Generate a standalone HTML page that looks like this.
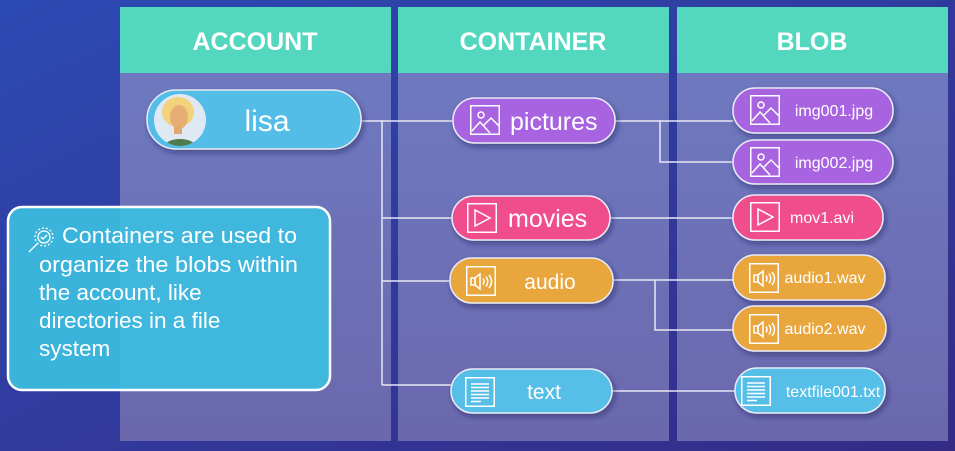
<!DOCTYPE html>
<html><head><meta charset="utf-8"><style>
html,body{margin:0;padding:0;width:955px;height:451px;overflow:hidden;background:#2d3a9e}
svg{display:block}
text{font-family:"Liberation Sans",sans-serif;fill:#fff}
</style></head><body>
<svg width="955" height="451" viewBox="0 0 955 451" xmlns="http://www.w3.org/2000/svg">
<defs>
<linearGradient id="bg" x1="0" y1="0" x2="1" y2="1">
<stop offset="0" stop-color="#2c4ab4"/><stop offset="1" stop-color="#352b86"/></linearGradient>
<linearGradient id="pn" x1="0" y1="0" x2="0" y2="1">
<stop offset="0" stop-color="#6f7cc2"/><stop offset="1" stop-color="#6b68ad"/></linearGradient>
<filter id="sh" x="-20%" y="-30%" width="140%" height="170%"><feDropShadow dx="2" dy="3" stdDeviation="3" flood-color="#1a1a50" flood-opacity="0.45"/></filter>
<g id="ipic" fill="none" stroke="#fff" stroke-width="1.5"><rect x="0.75" y="0.75" width="28.5" height="28.5"/><circle cx="11" cy="10" r="3"/><polyline points="2,26 10,17 20,28"/><polyline points="13,21 21,13 29,21"/></g>
<g id="iplay" fill="none" stroke="#fff" stroke-width="1.5"><rect x="0.75" y="0.75" width="28.5" height="28.5"/><polygon points="8,7 8,23 23,15"/></g>
<g id="iaud" fill="none" stroke="#fff" stroke-width="1.5"><rect x="0.75" y="0.75" width="28.5" height="28.5"/><rect x="5" y="12" width="4" height="7"/><polygon points="9,12 14,8 14,23 9,19"/><path d="M17,12.5 q2,3 0,6 M20,10.5 q3.5,5 0,10 M23,9 q5,6.5 0,13"/></g>
<g id="itxt" fill="none" stroke="#fff" stroke-width="1.5"><rect x="0.75" y="0.75" width="28.5" height="28.5"/><path d="M6,7H24M6,10.5H24M6,14H24M6,17.5H24M6,21H24M6,24.5H16"/></g>
</defs>
<rect width="955" height="451" fill="url(#bg)"/>
<rect x="120" y="7" width="271" height="434" fill="url(#pn)"/>
<rect x="398" y="7" width="271" height="434" fill="url(#pn)"/>
<rect x="677" y="7" width="271" height="434" fill="url(#pn)"/>
<rect x="120" y="7" width="271" height="66" fill="#53d8bf"/>
<rect x="398" y="7" width="271" height="66" fill="#53d8bf"/>
<rect x="677" y="7" width="271" height="66" fill="#53d8bf"/>
<text x="255" y="50" font-size="25" font-weight="bold" text-anchor="middle">ACCOUNT</text>
<text x="533" y="50" font-size="25" font-weight="bold" text-anchor="middle">CONTAINER</text>
<text x="812" y="50" font-size="25" font-weight="bold" text-anchor="middle">BLOB</text>

<g stroke="#e8e8f4" stroke-width="1.5" fill="none">
<path d="M361,121H382V385M382,121H453M382,218H452M382,281H450M382,385H451"/>
<path d="M615,121H733M660,121V162H733M610,218H733M613,280H733M655,280V330H733M612,391H735"/>
</g>

<g filter="url(#sh)" stroke="#e8eaf6" stroke-width="1.5">
<rect x="147" y="90" width="214" height="59" rx="29" fill="#52bde8"/>
<rect x="453" y="98" width="162" height="45" rx="22" fill="#a864e0"/>
<rect x="452" y="196" width="158" height="44" rx="22" fill="#ef4e8c"/>
<rect x="450" y="258" width="163" height="45" rx="22" fill="#e8a63c"/>
<rect x="451" y="369" width="161" height="44" rx="22" fill="#55bfe8"/>
<rect x="733" y="88" width="160" height="45" rx="22" fill="#a864e0"/>
<rect x="733" y="140" width="160" height="44" rx="22" fill="#a864e0"/>
<rect x="733" y="195" width="150" height="45" rx="22" fill="#ef4e8c"/>
<rect x="733" y="255" width="152" height="45" rx="22" fill="#e8a63c"/>
<rect x="733" y="306" width="153" height="45" rx="22" fill="#e8a63c"/>
<rect x="735" y="368" width="150" height="45" rx="22" fill="#55bfe8"/>
</g>

<circle cx="180" cy="120" r="26" fill="#dfe9f4"/>
<clipPath id="av"><circle cx="180" cy="120" r="26"/></clipPath>
<g clip-path="url(#av)">
<ellipse cx="178" cy="112" rx="16" ry="15" fill="#f2d27a"/>
<rect x="174" y="124" width="8" height="10" fill="#e0a86e"/>
<ellipse cx="180" cy="147" rx="16" ry="8" fill="#4f7a4c"/>
<ellipse cx="179" cy="117" rx="9" ry="12" fill="#e6ae72"/>
</g>
<text x="267" y="131" font-size="30" text-anchor="middle">lisa</text>

<use href="#ipic" x="470" y="105"/><text x="510" y="130" font-size="25">pictures</text>
<use href="#iplay" x="467" y="203"/><text x="508" y="227" font-size="25">movies</text>
<use href="#iaud" x="466" y="266"/><text x="550" y="289" font-size="21" text-anchor="middle">audio</text>
<use href="#itxt" x="465" y="377"/><text x="544" y="399" font-size="21" text-anchor="middle">text</text>

<use href="#ipic" x="750" y="95"/><text x="834" y="116" font-size="16" text-anchor="middle">img001.jpg</text>
<use href="#ipic" x="750" y="147"/><text x="834" y="168" font-size="16" text-anchor="middle">img002.jpg</text>
<use href="#iplay" x="750" y="202"/><text x="822" y="223" font-size="16" text-anchor="middle">mov1.avi</text>
<use href="#iaud" x="749" y="263"/><text x="825" y="283" font-size="16" text-anchor="middle">audio1.wav</text>
<use href="#iaud" x="749" y="314"/><text x="825" y="334" font-size="16" text-anchor="middle">audio2.wav</text>
<use href="#itxt" x="741" y="376"/><text x="833" y="397" font-size="16" text-anchor="middle">textfile001.txt</text>

<rect x="8" y="207" width="322" height="183" rx="14" fill="#3cbde0" fill-opacity="0.93" stroke="#fff" stroke-width="2.5"/>
<g fill="none" stroke="#fff" stroke-width="1.3">
<circle cx="44" cy="237" r="9" stroke-dasharray="2 2"/>
<circle cx="44" cy="237" r="6"/>
<path d="M41,237l2,2 4,-4"/>
<path d="M38,243l-9,9"/>
</g>
<g font-size="22.5">
<text x="62" y="243" textLength="235" lengthAdjust="spacingAndGlyphs">Containers are used to</text>
<text x="39" y="272" textLength="259" lengthAdjust="spacingAndGlyphs">organize the blobs within</text>
<text x="39" y="300">the account, like</text>
<text x="39" y="328">directories in a file</text>
<text x="39" y="356">system</text>
</g>
</svg>
</body></html>
